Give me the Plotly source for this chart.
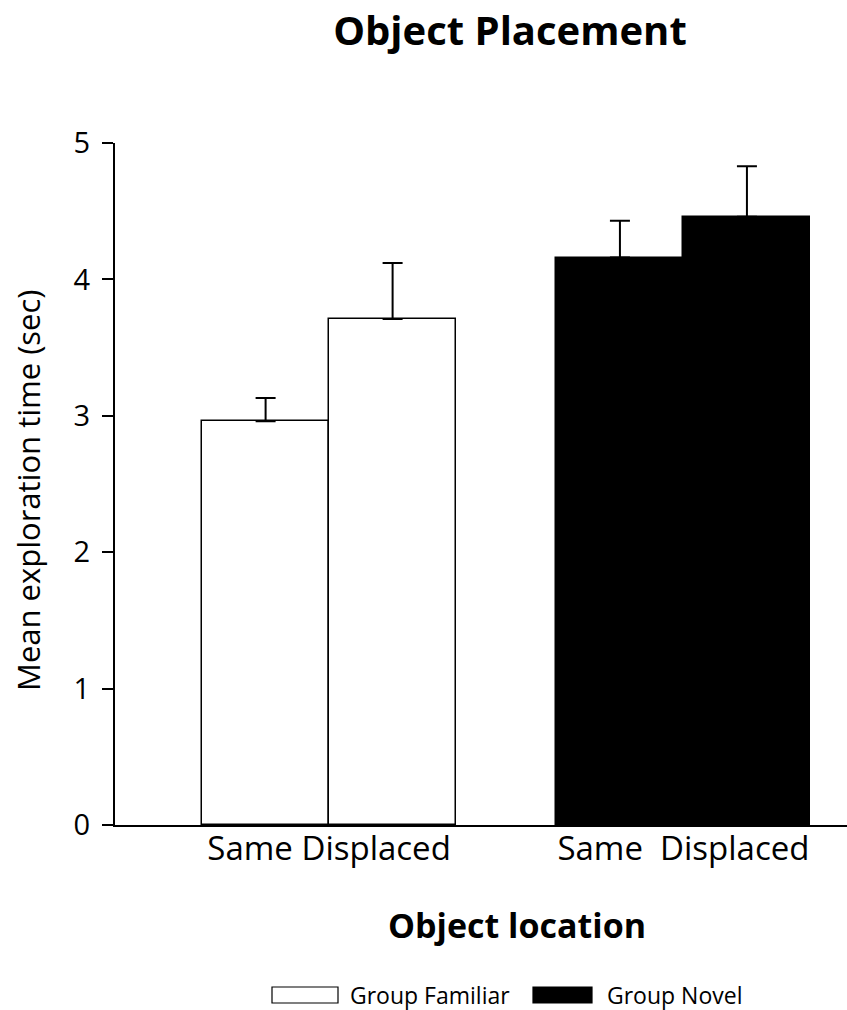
import plotly.graph_objects as go

# Mean exploration time (sec) per group and object location, with SEM
groups = ["Group Familiar", "Group Novel"]
conditions = ["Same", "Displaced"]
means = {
    "Group Familiar": [2.96, 3.71],
    "Group Novel": [4.16, 4.46],
}
sems = {
    "Group Familiar": [0.17, 0.41],
    "Group Novel": [0.27, 0.37],
}
y_ticks = [0, 1, 2, 3, 4, 5]

FONT = "Open Sans"
W, H = 847, 1010
L, R, T, B = 115, 0, 143, 185
PW, PH = W - L - R, H - T - B
GAP = 0.79  # space between the two groups, in bar widths

fill = {"Group Familiar": "white", "Group Novel": "black"}


def px_x(p):
    return (p - L) / PW


def px_y(p):
    return (H - B - p) / PH


fig = go.Figure()
group_centers = []
for gi, g in enumerate(groups):
    xs = [gi * (len(conditions) + GAP) + ci for ci in range(len(conditions))]
    group_centers.append(sum(xs) / len(xs))
    fig.add_trace(go.Bar(
        x=xs, y=means[g], width=1.0, name=g,
        marker=dict(color=fill[g], line=dict(color="black", width=1.5)),
        error_y=dict(type="data", array=sems[g], arrayminus=[0] * len(conditions),
                     symmetric=False, color="black", thickness=2, width=10),
        showlegend=False,
    ))

fig.update_layout(
    width=W, height=H,
    margin=dict(l=L, r=R, t=T, b=B),
    plot_bgcolor="white", paper_bgcolor="white",
    font=dict(family=FONT, color="black"),
    bargap=0,
    title=dict(text="<b>Object Placement</b>", x=510 / W, xanchor="center",
               y=1 - 31 / H, yanchor="middle", font=dict(size=40, family=FONT)),
    xaxis=dict(
        range=[(L - 265.6) / 127, (W - 265.6) / 127],
        tickvals=group_centers,
        ticktext=[" ".join(conditions), "  ".join(conditions)],
        ticks="", showline=True, linecolor="black", linewidth=2,
        showgrid=False, zeroline=False,
        tickfont=dict(size=33, family=FONT),
        ticklabelstandoff=-7,
    ),
    yaxis=dict(
        range=[0, 5], tickvals=y_ticks,
        ticks="outside", ticklen=11, tickwidth=2, tickcolor="black",
        showline=True, linecolor="black", linewidth=2,
        showgrid=False, zeroline=False,
        tickfont=dict(size=29, family=FONT),
        ticklabelstandoff=6,
    ),
)

annotations = [
    dict(text="<b>Object location</b>", x=px_x(517), y=px_y(925),
         xref="paper", yref="paper", showarrow=False,
         xanchor="center", yanchor="middle", font=dict(size=34, family=FONT)),
    dict(text="Mean exploration time (sec)", x=px_x(28), y=px_y(490),
         xref="paper", yref="paper", showarrow=False, textangle=-90,
         xanchor="center", yanchor="middle", font=dict(size=31, family=FONT)),
]

# Legend swatches and labels along the bottom
legend_boxes = {"Group Familiar": (272, 338, 348), "Group Novel": (533, 592, 605)}
shapes = []
for g in groups:
    x0, x1, tx = legend_boxes[g]
    shapes.append(dict(type="rect", xref="paper", yref="paper",
                       x0=px_x(x0), x1=px_x(x1), y0=px_y(987), y1=px_y(1003),
                       fillcolor=fill[g], line=dict(color="black", width=1.2)))
    annotations.append(dict(text=g, x=px_x(tx), y=px_y(995), xref="paper", yref="paper",
                            showarrow=False, xanchor="left", yanchor="middle",
                            font=dict(size=23, family=FONT)))

fig.update_layout(annotations=annotations, shapes=shapes)
fig.write_html("out.html")
